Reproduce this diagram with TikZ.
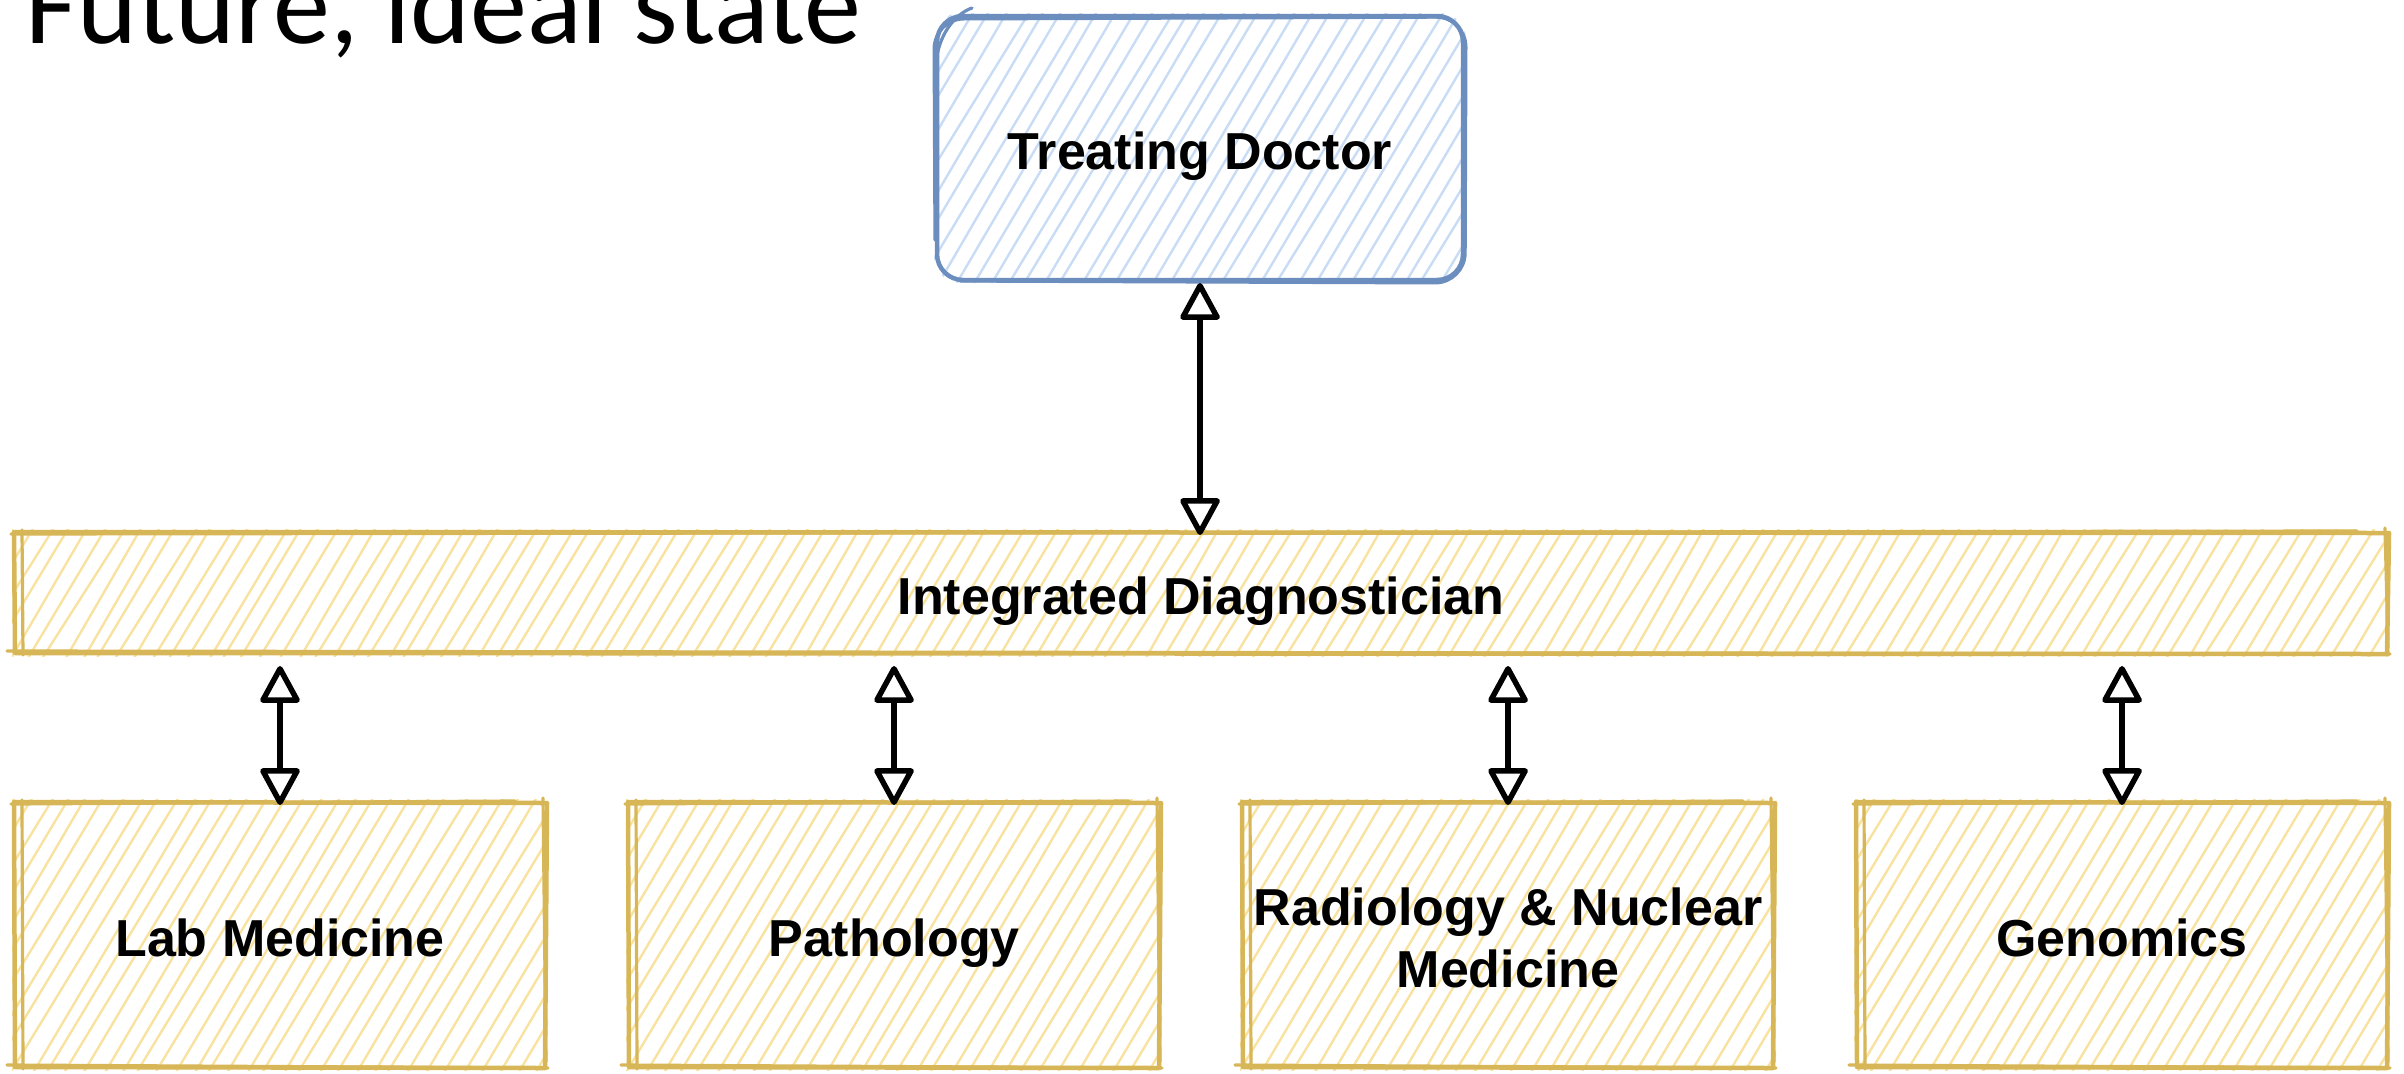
\documentclass[tikz,border=0pt]{standalone}
\usepackage{fontspec}
\setmainfont{Liberation Sans}
\newfontfamily\titlefont{Carlito}
\usetikzlibrary{arrows.meta,calc}

\definecolor{blueline}{HTML}{6C8EBF}
\definecolor{bluehatch}{HTML}{C9DCF6}
\definecolor{goldline}{HTML}{D6B656}
\definecolor{goldhatch}{HTML}{F9E2A0}

\pgfdeclarelayer{bg}
\pgfsetlayers{bg,main}

\tikzset{
  hatchline/.style={line width=2.4bp, line cap=round},
  frameline/.style={line width=4.5bp, line cap=round, line join=round},
  frameline2/.style={line width=3.2bp, line cap=round},
  boxlabel/.style={inner sep=0pt, outer sep=0pt, align=center,
    font=\bfseries\fontsize{52bp}{62bp}\selectfont},
  oneline/.style={text height=37bp, text depth=0bp, yshift=-3bp},
  sketchtip/.tip={Triangle[open,round,length=40bp,width=42bp]},
  biarrow/.style={line width=5.5bp, black, line cap=round, sketchtip-sketchtip},
}

% diagonal sketch fill: [clip options] x1 y1 x2 y2 colour
\newcommand\hachure[6][]{%
  \begin{scope}
    \clip[#1] (#2-3,#3-3) rectangle (#4+3,#5+3);
    \pgfmathsetmacro\hachH{#5-#3+8}
    \pgfmathsetmacro\hachD{0.6*\hachH}
    \pgfmathsetmacro\hachS{#2-\hachD}
    \pgfmathsetmacro\hachN{\hachS+18}
    \pgfmathsetmacro\hachE{#4}
    \foreach \hx in {\hachS,\hachN,...,\hachE} {
      \pgfmathsetmacro\hja{3*rand}
      \pgfmathsetmacro\hjb{3*rand}
      \draw[#6, hatchline] (\hx+\hja,#5+4) -- (\hx+\hachD+\hjb,#3-4);
    }
  \end{scope}}

% hand-drawn double outline: x1 y1 x2 y2 colour
\newcommand\sketchframe[5]{%
  \draw[#5, frameline] (#1-1,#2) -- (#3+2,#2+1) -- (#3,#4+1) -- (#1,#4) -- cycle;
  \draw[#5, frameline2] (#1+7,#2-2) -- (#1+8,#4+2);
  \draw[#5, frameline2] (#1-4,#2+2) -- (#3-30,#2-1);
  \draw[#5, frameline2] (#3-2,#2-4) -- (#3+1,#4-5);
  \draw[#5, frameline2] (#1-8,#4-2) -- (#3+3,#4+1);
}

\begin{document}
\begin{tikzpicture}[x=1bp, y=-1bp]
  \useasboundingbox (0,0) rectangle (2404,1073);
  \clip (0,0) rectangle (2404,1073);
  \pgfmathsetseed{17}

  % title
  \node[anchor=base west, inner sep=0pt,
        font=\titlefont\fontsize{114bp}{130bp}\selectfont] (title) at (25,43) {Future, ideal state};

  % boxes (labels; outlines and fills go on the background layer)
  \node[boxlabel, oneline, minimum width=526bp, minimum height=264bp] (doc) at (1200,148) {Treating Doctor};
  \node[boxlabel, oneline, minimum width=2372bp, minimum height=121bp] (diag) at (1201,592.5) {Integrated Diagnostician};
  \node[boxlabel, oneline, minimum width=530bp, minimum height=265bp] (lab) at (280,934.5) {Lab Medicine};
  \node[boxlabel, oneline, minimum width=530bp, minimum height=265bp] (path) at (894,934.5) {Pathology};
  \node[boxlabel, minimum width=530bp, minimum height=265bp, yshift=-3bp] (rad) at (1508,934.5) {Radiology \& Nuclear\\Medicine};
  \node[boxlabel, oneline, minimum width=530bp, minimum height=265bp] (gen) at (2122,934.5) {Genomics};

  \begin{pgfonlayer}{bg}
    % Treating Doctor: rounded blue card
    \hachure[rounded corners=26bp]{937}{16}{1463}{280}{bluehatch}
    \draw[blueline, frameline, rounded corners=26bp] (937,16) rectangle (1463,280);
    \draw[blueline, frameline2, rounded corners=30bp] (935,240) -- (934,19) -- (1466,17) -- (1465,283) -- (960,281);
    \draw[blueline, frameline2] (936,62) .. controls (940,28) and (960,12) .. (972,8);

    % integrated bar and department boxes
    \hachure{15}{532}{2387}{653}{goldhatch}
    \sketchframe{15}{532}{2387}{653}{goldline}
    \foreach \cx in {280,894,1508,2122} {
      \pgfmathsetmacro\bxl{\cx-265}
      \pgfmathsetmacro\bxr{\cx+265}
      \hachure{\bxl}{802}{\bxr}{1067}{goldhatch}
      \sketchframe{\bxl}{802}{\bxr}{1067}{goldline}
    }
  \end{pgfonlayer}

  % connectors
  \draw[biarrow] (doc.south) -- (doc.south |- diag.north);
  \foreach \b in {lab,path,rad,gen}
    \draw[biarrow, shorten >=10bp] (\b.north) -- (\b.north |- diag.south);
\end{tikzpicture}
\end{document}
